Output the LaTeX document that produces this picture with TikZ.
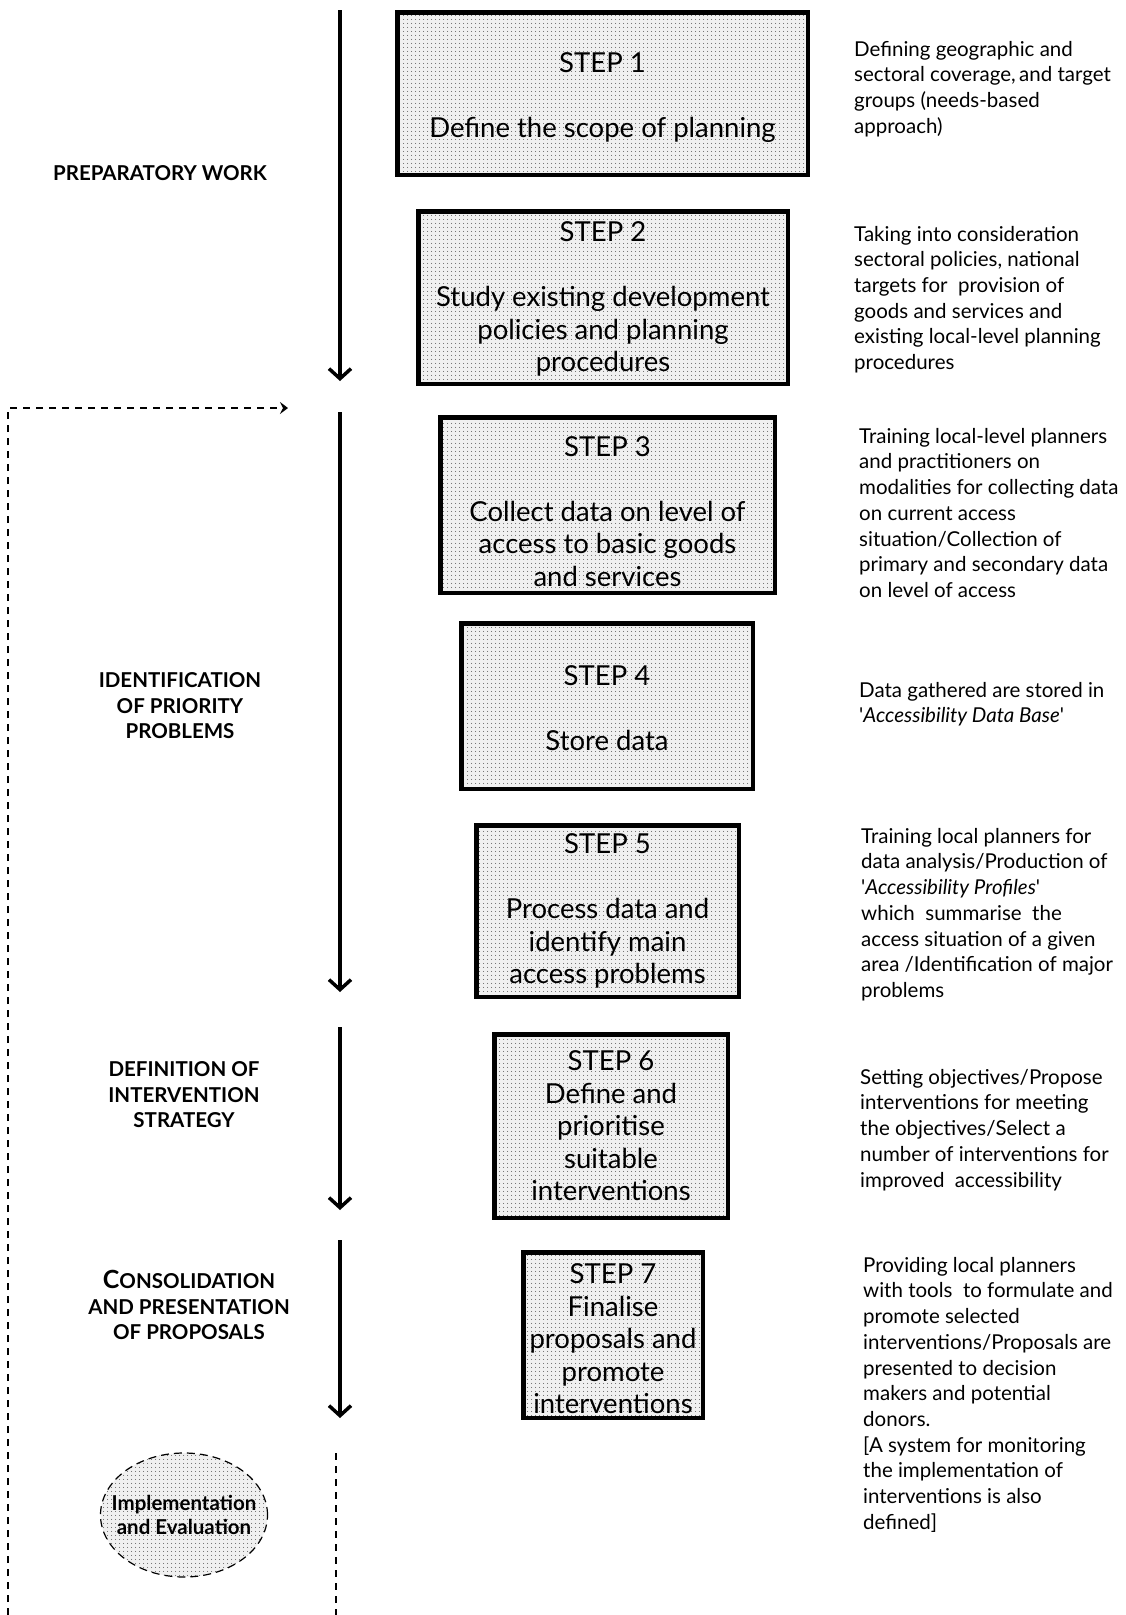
\documentclass[tikz,border=0pt]{standalone}
\usepackage{fontspec}
\setmainfont{Lato}
\usetikzlibrary{arrows.meta,patterns.meta,shapes.geometric}
\tikzdeclarepattern{
  name=fdots,
  type=uncolored,
  bounding box={(-2pt,-2pt) and (2pt,2pt)},
  tile size={(4pt,4pt)},
  code={\pgfpathcircle{\pgfpointorigin}{0.6pt}\pgfusepath{fill}}
}
\newcommand\tdown[1]{\rule{0pt}{#1}}
\tikzset{
  dotfill/.style={preaction={fill=black!6}, pattern={fdots}, pattern color=black!70},
  stepbox/.style={draw, line width=4.5pt, dotfill, align=center, inner sep=0pt,
    font=\fontsize{27.5}{32.5}\selectfont},
  note/.style={anchor=north west, align=left, inner sep=0pt,
    font=\fontsize{20.5}{25.7}\selectfont},
  phase/.style={align=center, inner sep=0pt, font=\bfseries\fontsize{20.5}{25.5}\selectfont},
  flow/.style={line width=3.5pt, -{Straight Barb[length=10pt,width=22pt]}},
  feedback/.style={line width=1.2pt, dash pattern=on 7pt off 6pt},
  implnode/.style={ellipse, draw, line width=1.2pt, dash pattern=on 8pt off 5pt, dotfill,
    align=center, inner xsep=-30pt, inner ysep=-10pt, font=\bfseries\fontsize{20.5}{23.5}\selectfont}
}
\begin{document}
\begin{tikzpicture}[x=1pt,y=-1pt]
\useasboundingbox (0,0) rectangle (1125,1615);

% step boxes
\node[stepbox, minimum width=410.5pt, minimum height=162.5pt] (s1) at (602.5,93.5)
  {\tdown{27.8pt}STEP 1\\[32.5pt]Define the scope of planning};
\node[stepbox, minimum width=369.5pt, minimum height=172.5pt] (s2) at (603,297.5)
  {\tdown{23pt}STEP 2\\[32.5pt]Study existing development\\policies and planning\\procedures};
\node[stepbox, minimum width=334.5pt, minimum height=175.5pt] (s3) at (607.5,505)
  {\tdown{33pt}STEP 3\\[32.5pt]Collect data on level of\\access to basic goods\\and services};
\node[stepbox, minimum width=291.5pt, minimum height=165.5pt] (s4) at (607,706)
  {\tdown{23.5pt}STEP 4\\[32.5pt]Store data};
\node[stepbox, minimum width=262.5pt, minimum height=171.5pt] (s5) at (607.5,911)
  {STEP 5\\[32.5pt]Process data and\\identify main\\access problems};
\node[stepbox, minimum width=233.5pt, minimum height=183.5pt] (s6) at (611,1126)
  {STEP 6\\Define and\\prioritise\\suitable\\interventions};
\node[stepbox, minimum width=179.5pt, minimum height=165.5pt] (s7) at (613,1335)
  {\tdown{27.8pt}STEP 7\\Finalise\\proposals and\\promote\\interventions};

% phase labels
\node[phase] (p1) at (160,173) {PREPARATORY WORK};
\node[phase] (p2) at (180,706) {IDENTIFICATION\\OF PRIORITY\\PROBLEMS};
\node[phase] (p3) at (184,1095) {DEFINITION OF\\INTERVENTION\\STRATEGY};
\node[phase] (p4) at (189,1305) {{\fontsize{25}{25.5}\selectfont C}ONSOLIDATION\\AND PRESENTATION\\OF PROPOSALS};

% notes
\node[note] (n1) at (854,38) {\strut Defining geographic and\\sectoral coverage,\,and target\\groups (needs-based\\approach)};
\node[note] (n2) at (854,223) {\strut Taking into consideration\\sectoral policies, national\\targets for~ provision of\\goods and services and\\existing local-level planning\\procedures};
\node[note] (n3) at (859,425) {\strut Training local-level planners\\and practitioners on\\modalities for collecting data\\on current access\\situation/Collection of\\primary and secondary data\\on level of access};
\node[note] (n4) at (859,679) {\strut Data gathered are stored in\\\textquotesingle\textit{Accessibility Data Base}\textquotesingle};
\node[note] (n5) at (861,825) {\strut Training local planners for\\data analysis/Production of\\\textquotesingle\textit{Accessibility Profiles}\textquotesingle\\which~ summarise~ the\\access situation of a given\\area /Identification of major\\problems};
\node[note] (n6) at (860,1066) {\strut Setting objectives/Propose\\interventions for meeting\\the objectives/Select a\\number of interventions for\\improved~ accessibility};
\node[note] (n7) at (863,1254) {\strut Providing local planners\\with tools~ to formulate and\\promote selected\\interventions/Proposals are\\presented to decision\\makers and potential\\donors.\\{[}A system for monitoring\\the implementation of\\interventions is also\\defined{]}};

% implementation ellipse
\node[implnode, minimum width=167pt, minimum height=124pt] (ie) at (184,1515) {Implementation\\and Evaluation};

% flow arrows
\coordinate (a1s) at (340,10);   \coordinate (a1e) at (340,381);
\coordinate (a2s) at (340,412);  \coordinate (a2e) at (340,992);
\coordinate (a3s) at (340,1027); \coordinate (a3e) at (340,1210);
\coordinate (a4s) at (340,1240); \coordinate (a4e) at (340,1418);
\draw[flow] (a1s) -- (a1e);
\draw[flow] (a2s) -- (a2e);
\draw[flow] (a3s) -- (a3e);
\draw[flow] (a4s) -- (a4e);

% feedback loop
\coordinate (fb0) at (8,1615);
\coordinate (fb1) at (8,408);
\coordinate (fb2) at (288,408);
\draw[feedback, -{Stealth[length=8pt,width=12pt,inset=3pt]}] (fb0) -- (fb1) -- (fb2);
\coordinate (d0) at (336,1453);
\coordinate (d1) at (336,1615);
\draw[feedback] (d0) -- (d1);
\end{tikzpicture}
\end{document}
